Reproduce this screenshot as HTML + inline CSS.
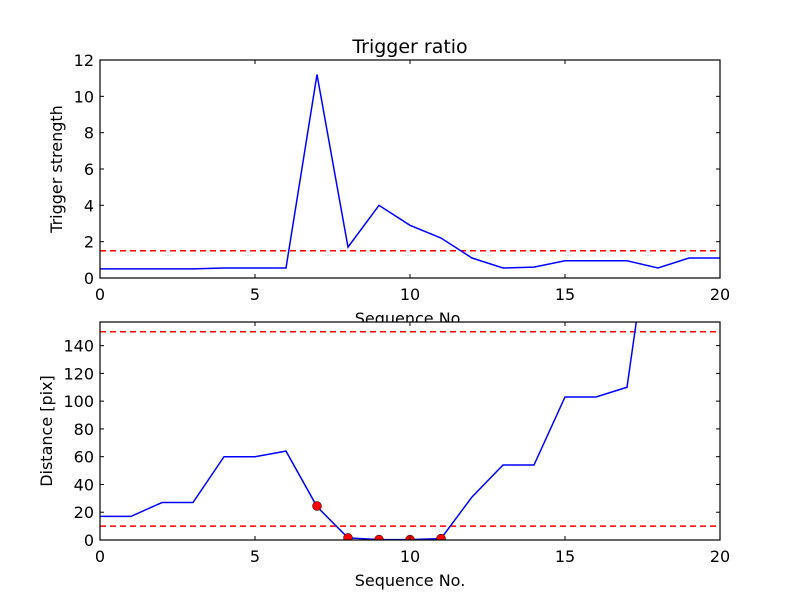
<!DOCTYPE html>
<html><head><meta charset="utf-8"><style>
body{margin:0;background:#fff}
svg text{font-family:"DejaVu Sans","Liberation Sans",sans-serif;fill:#000}
</style></head><body>
<svg id="c" width="800" height="600" xmlns="http://www.w3.org/2000/svg">
<rect width="800" height="600" fill="#fff"/>
</svg>
<script>
const seqX=[0,1,2,3,4,5,6,7,8,9,10,11,12,13,14,15,16,17,18,19,20];
const strength=[0.5,0.5,0.5,0.5,0.55,0.55,0.55,11.2,1.7,4.0,2.9,2.2,1.1,0.55,0.6,0.95,0.95,0.95,0.55,1.1,1.1];
const strengthThreshold=[1.5];
const distX=[0,1,2,3,4,5,6,7,8,9,10,11,12,13,14,15,16,17,18];
const distance=[17,17,27,27,60,60,64,24,1.5,0.3,0.3,1,31,54,54,103,103,110,267];
const distThresholds=[10,150];
const markX=[7,8,9,10,11];
const markY=[24.5,1.5,0.3,0.3,1];
const xTicks=[0,5,10,15,20];
const yTicksTop=[0,2,4,6,8,10,12];
const yTicksBot=[0,20,40,60,80,100,120,140];

const svg=document.getElementById('c');
const NS='http://www.w3.org/2000/svg';
function mk(t,a,p){const e=document.createElementNS(NS,t);for(const k in a)e.setAttribute(k,a[k]);(p||svg).appendChild(e);return e;}
function panel(cfg){
  const {L,R,T,B,ymin,ymax,name}=cfg;
  const sx=v=>L+(v-0)/(20-0)*(R-L);
  const sy=v=>B-(v-ymin)/(ymax-ymin)*(B-T);
  const g=mk('g',{});
  
  
  mk('rect',{x:L,y:T,width:R-L,height:B-T,fill:'#fff'},g);
  const cid='clip-'+name;
  const cp=mk('clipPath',{id:cid},g);mk('rect',{x:L,y:T,width:R-L,height:B-T},cp);
  const plot=mk('g',{'clip-path':'url(#'+cid+')'},g);
  cfg.thr.forEach(v=>{const l=mk('line',{x1:L,x2:R,y1:sy(v),y2:sy(v),stroke:'#f00','stroke-width':1.5,'stroke-dasharray':'6,4'},plot);
    
    });
  const pts=cfg.xs.map((x,i)=>sx(x)+','+sy(cfg.ys[i])).join(' ');
  const pl=mk('polyline',{points:pts,fill:'none',stroke:'#00f','stroke-width':1.5},plot);
  
  
  if(cfg.mx){cfg.mx.forEach((x,i)=>{const c=mk('circle',{cx:sx(x),cy:sy(cfg.my[i]),r:4.5,fill:'#f00',stroke:'#000','stroke-width':0.5},plot);
    
    });}
  mk('rect',{x:L,y:T,width:R-L,height:B-T,fill:'none',stroke:'#000','stroke-width':1.2},g);
  xTicks.forEach(v=>{const x=sx(v);
    mk('line',{x1:x,x2:x,y1:B,y2:B-4,stroke:'#000'},g);mk('line',{x1:x,x2:x,y1:T,y2:T+4,stroke:'#000'},g);
    const t=mk('text',{x:x,y:B+22,'text-anchor':'middle','font-size':16},g);t.textContent=v;
    
    });
  cfg.yt.forEach(v=>{const y=sy(v);
    mk('line',{x1:L,x2:L+4,y1:y,y2:y,stroke:'#000'},g);mk('line',{x1:R,x2:R-4,y1:y,y2:y,stroke:'#000'},g);
    const t=mk('text',{x:L-6,y:y+6,'text-anchor':'end','font-size':16},g);t.textContent=v;
    
    });
  const xl=mk('text',{x:(L+R)/2,y:B+46,'text-anchor':'middle','font-size':16},g);xl.textContent='Sequence No.';
  
  
  const yl=mk('text',{x:0,y:0,'text-anchor':'middle','font-size':16,transform:'translate('+cfg.ylx+','+((T+B)/2)+') rotate(-90)'},g);yl.textContent=cfg.ylabel;
  
  
}
panel({name:'top-panel',L:100,R:720,T:60,B:278,ymin:0,ymax:12,xs:seqX,ys:strength,thr:strengthThreshold,yt:yTicksTop,ylabel:'Trigger strength',ylx:62});
panel({name:'bottom-panel',L:100,R:720,T:322,B:540,ymin:0,ymax:157,xs:distX,ys:distance,thr:distThresholds,mx:markX,my:markY,yt:yTicksBot,ylabel:'Distance [pix]',ylx:52});
const tt=mk('text',{x:410,y:53,'text-anchor':'middle','font-size':19});tt.textContent='Trigger ratio';


</script>
</body></html>
